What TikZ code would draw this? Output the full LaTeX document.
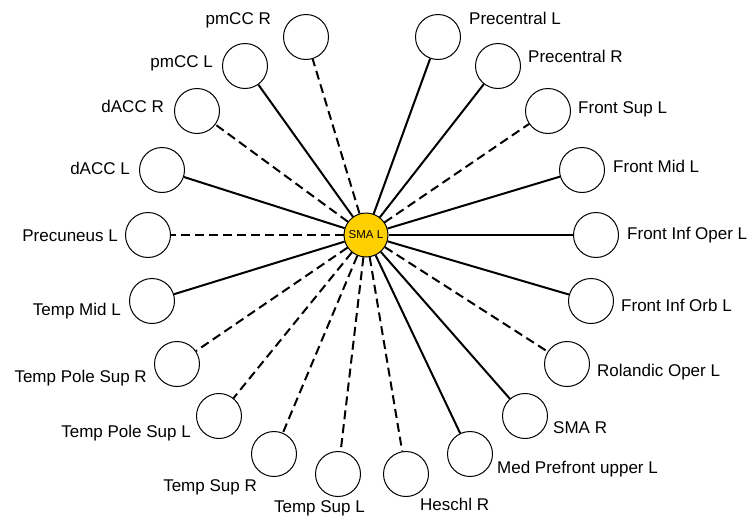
\documentclass[tikz,border=0pt]{standalone}
\usepackage{fontspec}
\setmainfont{Liberation Sans}
\begin{document}
\begin{tikzpicture}[x=1pt,y=-1pt,
  roi/.style={circle,draw=black,line width=1pt,fill=white,minimum size=45pt,inner sep=0pt},
  hub/.style={circle,draw=black,line width=1pt,fill={rgb,255:red,255;green,208;blue,0},minimum size=44pt,inner sep=0pt,font=\fontsize{11.5}{13}\selectfont},
  lbl/.style={inner sep=0pt,yshift=-3.5pt,font=\fontsize{17}{20}\selectfont},
  posedge/.style={line width=2pt},
  negedge/.style={line width=2pt,dash pattern=on 9pt off 5pt}]
\useasboundingbox (0,0) rectangle (750,517);
% outer nodes
\node[roi] (pmCCR) at (306,37) {};
\node[roi] (pmCCL) at (245,66) {};
\node[roi] (dACCR) at (197,111) {};
\node[roi] (dACCL) at (162,170) {};
\node[roi] (PrecL) at (148,235) {};
\node[roi] (TMidL) at (152,301) {};
\node[roi] (TPSR) at (177,364) {};
\node[roi] (TPSL) at (219,416) {};
\node[roi] (TSR) at (274,454) {};
\node[roi] (TSL) at (338,474) {};
\node[roi] (HesR) at (406,474) {};
\node[roi] (MPUL) at (470,454) {};
\node[roi] (SMAR) at (525,416) {};
\node[roi] (RolL) at (567,364) {};
\node[roi] (FIOrbL) at (591,301) {};
\node[roi] (FIOpL) at (596,235) {};
\node[roi] (FMidL) at (582,170) {};
\node[roi] (FSupL) at (548,111) {};
\node[roi] (PreCR) at (498,66) {};
\node[roi] (PreCL) at (438,37) {};
\node[hub] (SMAL) at (366,235) {SMA L};
% edges
\draw[negedge] (SMAL) -- (pmCCR);
\draw[posedge] (SMAL) -- (pmCCL);
\draw[negedge] (SMAL) -- (dACCR);
\draw[posedge] (SMAL) -- (dACCL);
\draw[negedge] (SMAL) -- (PrecL);
\draw[posedge] (SMAL) -- (TMidL);
\draw[negedge] (SMAL) -- (TPSR);
\draw[negedge] (SMAL) -- (TPSL);
\draw[negedge] (SMAL) -- (TSR);
\draw[negedge] (SMAL) -- (TSL);
\draw[negedge] (SMAL) -- (HesR);
\draw[posedge] (SMAL) -- (MPUL);
\draw[posedge] (SMAL) -- (SMAR);
\draw[negedge] (SMAL) -- (RolL);
\draw[posedge] (SMAL) -- (FIOrbL);
\draw[posedge] (SMAL) -- (FIOpL);
\draw[posedge] (SMAL) -- (FMidL);
\draw[negedge] (SMAL) -- (FSupL);
\draw[posedge] (SMAL) -- (PreCR);
\draw[posedge] (SMAL) -- (PreCL);
% labels left
\node[lbl,anchor=mid east] (l1) at (271,18) {pmCC R};
\node[lbl,anchor=mid east] (l2) at (213,61) {pmCC L};
\node[lbl,anchor=mid east] (l3) at (164,106) {dACC R};
\node[lbl,anchor=mid east] (l4) at (130,168) {dACC L};
\node[lbl,anchor=mid east] (l5) at (118,235) {Precuneus L};
\node[lbl,anchor=mid east] (l6) at (121,309) {Temp Mid L};
\node[lbl,anchor=mid east] (l7) at (147,376) {Temp Pole Sup R};
\node[lbl,anchor=mid east] (l8) at (191,431) {Temp Pole Sup L};
\node[lbl,anchor=mid east] (l9) at (257,485) {Temp Sup R};
\node[lbl,anchor=mid east] (l10) at (365,506) {Temp Sup L};
% labels right
\node[lbl,anchor=mid west] (r1) at (469,18) {Precentral L};
\node[lbl,anchor=mid west] (r2) at (528,56) {Precentral R};
\node[lbl,anchor=mid west] (r3) at (578,107) {Front Sup L};
\node[lbl,anchor=mid west] (r4) at (613,166) {Front Mid L};
\node[lbl,anchor=mid west] (r5) at (627,233) {Front Inf Oper L};
\node[lbl,anchor=mid west] (r6) at (621,305) {Front Inf Orb L};
\node[lbl,anchor=mid west] (r7) at (597,370) {Rolandic Oper L};
\node[lbl,anchor=mid west] (r8) at (553,427) {SMA R};
\node[lbl,anchor=mid west] (r9) at (497,467) {Med Prefront upper L};
\node[lbl,anchor=mid west] (r10) at (420,504) {Heschl R};
\end{tikzpicture}
\end{document}
